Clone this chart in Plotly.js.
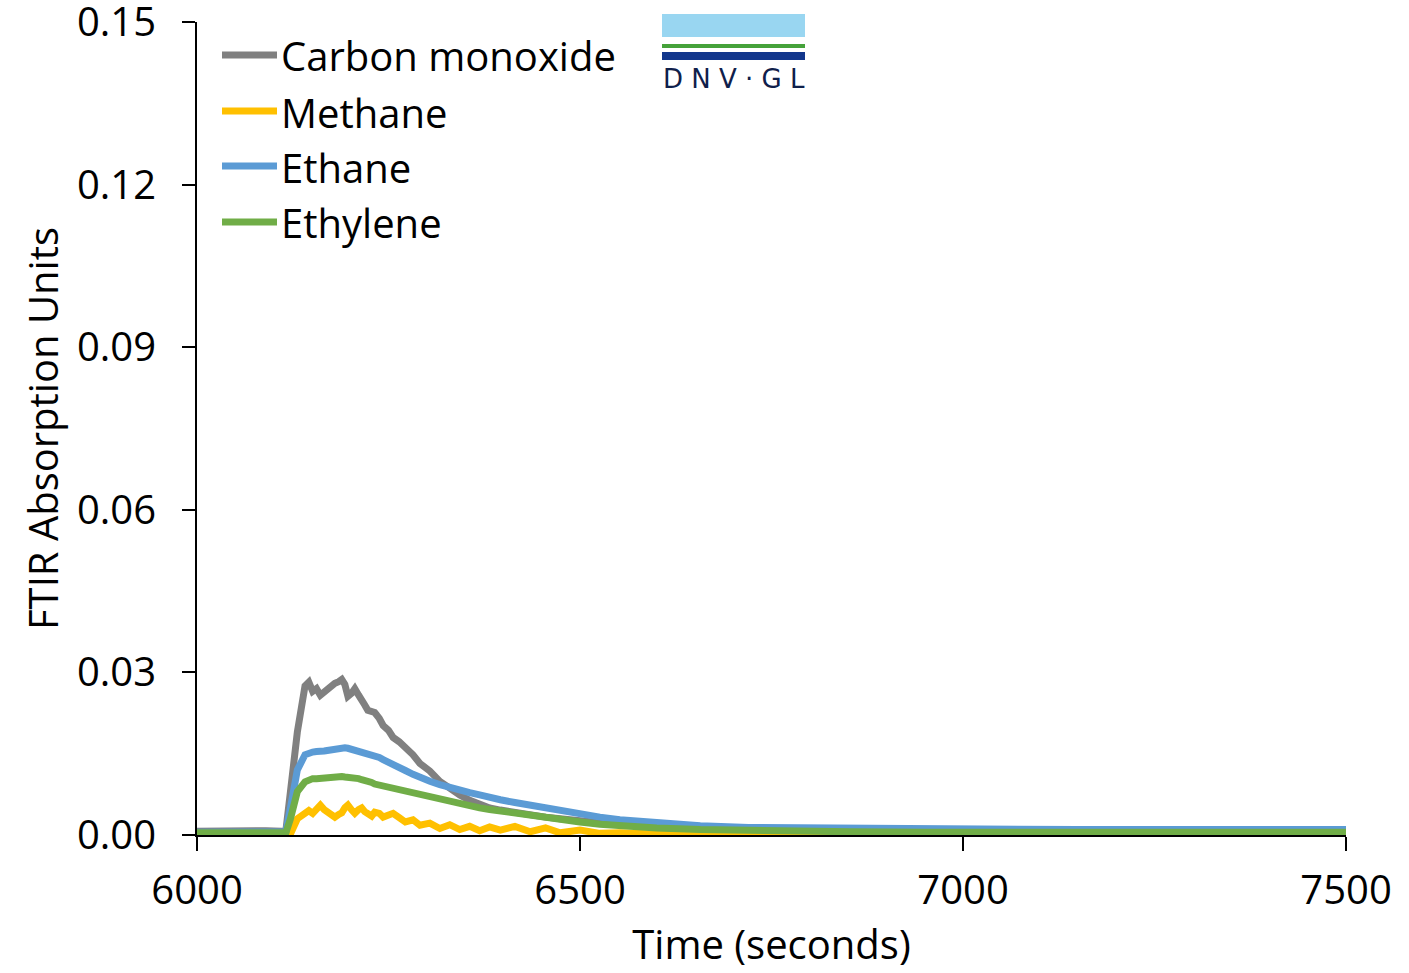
<!DOCTYPE html>
<html>
<head>
<meta charset="utf-8">
<script src="https://cdn.plot.ly/plotly-3.0.1.min.js"></script>
<style>html,body{margin:0;padding:0;background:#fff;}#chart{width:1409px;height:973px;}</style>
</head>
<body>
<div id="chart"></div>
<script>
const seriesNames = ["Carbon monoxide", "Methane", "Ethane", "Ethylene"];
const seriesColors = ["#808080", "#FFC000", "#5B9BD5", "#70AD47"];

const time = [6000, 6030, 6060, 6090, 6110, 6116, 6122, 6131, 6141, 6146,
  6151, 6156, 6161, 6166, 6170, 6175, 6180, 6185, 6189, 6193,
  6197, 6202, 6206, 6211, 6215, 6219, 6223, 6228, 6232, 6238,
  6243, 6250, 6256, 6264, 6272, 6282, 6291, 6304, 6317, 6330,
  6343, 6356, 6369, 6382, 6396, 6415, 6435, 6455, 6474, 6500,
  6526, 6552, 6600, 6657, 6720, 6787, 6852, 6950, 7050, 7150,
  7250, 7350, 7450, 7500];

const carbonMonoxide = [0.0007, 0.0008, 0.0007, 0.0008, 0.0007, 0.0008, 0.0080, 0.0190, 0.0275, 0.0282,
  0.0265, 0.0270, 0.0258, 0.0264, 0.0272, 0.0276, 0.0280, 0.0283, 0.0287, 0.0278,
  0.0256, 0.0262, 0.0270, 0.0258, 0.0245, 0.0240, 0.0230, 0.0228, 0.0226, 0.0215,
  0.0202, 0.0193, 0.0180, 0.0172, 0.0163, 0.0148, 0.0132, 0.0118, 0.0099, 0.0086,
  0.0074, 0.0064, 0.0056, 0.0050, 0.0046, 0.0041, 0.0037, 0.0033, 0.0030, 0.0026,
  0.0022, 0.0019, 0.0015, 0.0012, 0.0010, 0.0009, 0.0009, 0.0008, 0.0009, 0.0008,
  0.0008, 0.0009, 0.0008, 0.0008];

const methane = [0.0002, 0.0002, 0.0002, 0.0002, 0.0002, 0.0002, 0.0002, 0.0030, 0.0042, 0.0045,
  0.0040, 0.0048, 0.0055, 0.0047, 0.0042, 0.0036, 0.0033, 0.0038, 0.0041, 0.0050,
  0.0055, 0.0046, 0.0040, 0.0047, 0.0050, 0.0043, 0.0038, 0.0035, 0.0042, 0.0040,
  0.0033, 0.0036, 0.0040, 0.0032, 0.0024, 0.0028, 0.0018, 0.0022, 0.0012, 0.0019,
  0.0010, 0.0016, 0.0008, 0.0015, 0.0009, 0.0016, 0.0006, 0.0013, 0.0004, 0.0009,
  0.0003, 0.0004, 0.0002, 0.0003, 0.0003, 0.0003, 0.0003, 0.0003, 0.0003, 0.0003,
  0.0003, 0.0003, 0.0003, 0.0003];

const ethane = [0.0005, 0.0005, 0.0005, 0.0005, 0.0005, 0.0006, 0.0050, 0.0120, 0.0148, 0.0152,
  0.0153, 0.0154, 0.0153, 0.0155, 0.0156, 0.0157, 0.0159, 0.0161, 0.0162, 0.0161,
  0.0160, 0.0158, 0.0157, 0.0155, 0.0153, 0.0152, 0.0150, 0.0149, 0.0147, 0.0143,
  0.0139, 0.0135, 0.0131, 0.0125, 0.0119, 0.0112, 0.0106, 0.0099, 0.0093, 0.0087,
  0.0082, 0.0078, 0.0074, 0.0069, 0.0065, 0.0060, 0.0055, 0.0049, 0.0044, 0.0038,
  0.0033, 0.0028, 0.0022, 0.0017, 0.0014, 0.0013, 0.0012, 0.0011, 0.0011, 0.0010,
  0.0010, 0.0010, 0.0010, 0.0010];

const ethylene = [0.0004, 0.0004, 0.0004, 0.0004, 0.0004, 0.0004, 0.0030, 0.0080, 0.0098, 0.0102,
  0.0104, 0.0104, 0.0105, 0.0104, 0.0105, 0.0106, 0.0106, 0.0107, 0.0108, 0.0107,
  0.0107, 0.0106, 0.0106, 0.0104, 0.0102, 0.0101, 0.0099, 0.0097, 0.0094, 0.0092,
  0.0090, 0.0088, 0.0086, 0.0084, 0.0082, 0.0078, 0.0074, 0.0069, 0.0065, 0.0061,
  0.0057, 0.0054, 0.0050, 0.0047, 0.0044, 0.0040, 0.0036, 0.0032, 0.0028, 0.0024,
  0.0020, 0.0017, 0.0013, 0.0010, 0.0008, 0.0007, 0.0006, 0.0005, 0.0005, 0.0005,
  0.0005, 0.0005, 0.0005, 0.0005];

const yTickVals = [0, 0.03, 0.06, 0.09, 0.12, 0.15];
const yTickText = ["0.00", "0.03", "0.06", "0.09", "0.12", "0.15"];
const xTickVals = [6000, 6500, 7000, 7500];
const xTickText = ["6000", "6500", "7000", "7500"];

const FONT = "'Open Sans', Lato, sans-serif";
const FS = 40;     // titles and legend
const TFS = 40;    // tick labels
const W = 1409, H = 973;
const M = {l: 197, r: 63, t: 22, b: 138};
const PW = W - M.l - M.r, PH = H - M.t - M.b;
const px = x => (x - M.l) / PW;
const py = y => (H - M.b - y) / PH;

const values = [carbonMonoxide, methane, ethane, ethylene];
const traces = values.map((v, i) => ({
  type: "scatter", mode: "lines", x: time, y: v, name: seriesNames[i],
  line: {color: seriesColors[i], width: 7}, showlegend: false, hoverinfo: "skip"
}));

const shapes = [];
const annotations = [];
const legendRows = [55, 111, 166, 222];
seriesNames.forEach((n, i) => {
  shapes.push({type: "line", xref: "paper", yref: "paper", x0: px(222), x1: px(277),
    y0: py(legendRows[i]), y1: py(legendRows[i]), line: {color: seriesColors[i], width: 7}});
  annotations.push({xref: "paper", yref: "paper", x: px(279), y: py(legendRows[i] + 1),
    xanchor: "left", yanchor: "middle", text: n, showarrow: false,
    font: {family: FONT, size: FS, color: "#000"}});
});

// DNV GL logo
shapes.push({type: "rect", xref: "paper", yref: "paper", x0: px(662), x1: px(805), y0: py(37), y1: py(14),
  fillcolor: "#99D6F1", line: {width: 0}});
shapes.push({type: "rect", xref: "paper", yref: "paper", x0: px(662), x1: px(805), y0: py(48), y1: py(44),
  fillcolor: "#45A23A", line: {width: 0}});
shapes.push({type: "rect", xref: "paper", yref: "paper", x0: px(662), x1: px(805), y0: py(60), y1: py(52),
  fillcolor: "#12368C", line: {width: 0}});
annotations.push({xref: "paper", yref: "paper", x: px(734), y: py(79), xanchor: "center", yanchor: "middle",
  text: "D N V · G L", showarrow: false,
  font: {family: "'DejaVu Sans', sans-serif", size: 26, color: "#0F204B"}});

const layout = {
  width: W, height: H,
  margin: {l: M.l, r: M.r, t: M.t, b: M.b, pad: 0},
  paper_bgcolor: "#fff", plot_bgcolor: "#fff",
  font: {family: FONT, size: FS, color: "#000"},
  showlegend: false,
  xaxis: {
    range: [6000, 7500], tickvals: xTickVals, ticktext: xTickText,
    showgrid: false, zeroline: false, showline: true, linecolor: "#000", linewidth: 2,
    ticks: "outside", ticklen: 14, tickwidth: 2, tickcolor: "#000",
    tickfont: {family: FONT, size: TFS, color: "#000"},
    ticklabelstandoff: 5, ticklabeloverflow: "allow",
    layer: "below traces",
    title: {text: "Time (seconds)", font: {family: FONT, size: FS, color: "#000"}, standoff: 16}
  },
  yaxis: {
    range: [0, 0.15000001], tickvals: yTickVals, ticktext: yTickText,
    showgrid: false, zeroline: false, showline: true, linecolor: "#000", linewidth: 2,
    ticks: "outside", ticklen: 13, tickwidth: 2, tickcolor: "#000",
    tickfont: {family: FONT, size: TFS, color: "#000"},
    ticklabelstandoff: 18, ticklabeloverflow: "allow",
    layer: "below traces",
    title: {text: "FTIR Absorption Units", font: {family: FONT, size: FS, color: "#000"}, standoff: 6}
  },
  shapes: shapes,
  annotations: annotations
};

Plotly.newPlot("chart", traces, layout, {displayModeBar: false, staticPlot: true});
</script>
</body>
</html>
